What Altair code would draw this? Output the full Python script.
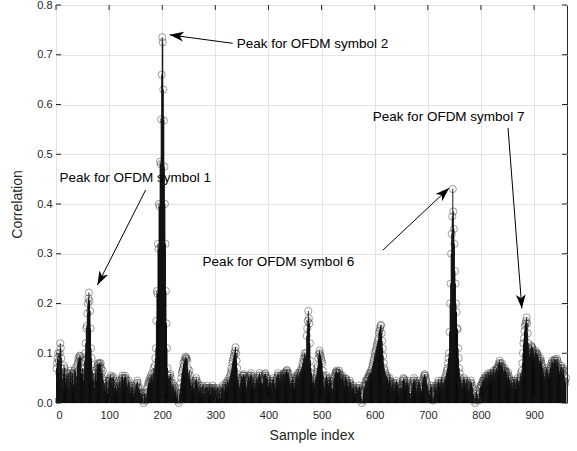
import math
import altair as alt
import pandas as pd

# Correlation value for samples 1..960
correlation = [
    0.07, 0.08, 0.09, 0.10, 0.085, 0.06, 0.10, 0.12, 0.11, 0.09,
    0.07, 0.05, 0.03, 0.06, 0.075, 0.07, 0.05, 0.04, 0.06, 0.05,
    0.035, 0.055, 0.06, 0.045, 0.03, 0.05, 0.065, 0.06, 0.04, 0.055,
    0.06, 0.05, 0.035, 0.045, 0.065, 0.07, 0.06, 0.04, 0.055, 0.075,
    0.08, 0.09, 0.085, 0.095, 0.09, 0.094, 0.08, 0.06, 0.05, 0.07,
    0.06, 0.045, 0.07, 0.085, 0.10, 0.12, 0.15, 0.155, 0.18, 0.20,
    0.21, 0.222, 0.205, 0.185, 0.15, 0.11, 0.09, 0.065, 0.05, 0.06,
    0.045, 0.03, 0.05, 0.065, 0.06, 0.045, 0.07, 0.075, 0.08, 0.078,
    0.07, 0.08, 0.075, 0.08, 0.07, 0.06, 0.05, 0.065, 0.045, 0.03,
    0.04, 0.035, 0.025, 0.045, 0.04, 0.03, 0.02, 0.035, 0.03, 0.045,
    0.05, 0.045, 0.055, 0.05, 0.04, 0.035, 0.05, 0.053, 0.045, 0.03,
    0.02, 0.035, 0.03, 0.025, 0.04, 0.035, 0.02, 0.03, 0.045, 0.04,
    0.035, 0.03, 0.045, 0.05, 0.055, 0.05, 0.045, 0.035, 0.05, 0.055,
    0.05, 0.04, 0.045, 0.035, 0.03, 0.04, 0.045, 0.035, 0.025, 0.02,
    0.03, 0.025, 0.035, 0.03, 0.02, 0.015, 0.025, 0.02, 0.03, 0.025,
    0.035, 0.04, 0.045, 0.04, 0.03, 0.02, 0.025, 0.03, 0.02, 0.01,
    0.015, 0.02, 0.01, 0.005, 0.0, 0.01, 0.02, 0.015, 0.005, 0.01,
    0.02, 0.03, 0.035, 0.04, 0.045, 0.04, 0.05, 0.045, 0.055, 0.05,
    0.06, 0.045, 0.05, 0.07, 0.06, 0.075, 0.09, 0.11, 0.165, 0.225,
    0.22, 0.32, 0.31, 0.40, 0.395, 0.485, 0.48, 0.57, 0.66, 0.735,
    0.725, 0.63, 0.568, 0.475, 0.40, 0.32, 0.225, 0.16, 0.11, 0.07,
    0.055, 0.05, 0.045, 0.055, 0.058, 0.05, 0.04, 0.035, 0.03, 0.04,
    0.035, 0.025, 0.02, 0.03, 0.025, 0.015, 0.01, 0.02, 0.015, 0.005,
    0.0, 0.01, 0.02, 0.03, 0.04, 0.05, 0.06, 0.065, 0.07, 0.08,
    0.075, 0.085, 0.09, 0.093, 0.088, 0.09, 0.085, 0.07, 0.06, 0.05,
    0.065, 0.055, 0.04, 0.045, 0.035, 0.025, 0.04, 0.035, 0.03, 0.02,
    0.03, 0.04, 0.045, 0.05, 0.045, 0.035, 0.04, 0.03, 0.02, 0.025,
    0.035, 0.03, 0.025, 0.02, 0.03, 0.035, 0.025, 0.02, 0.015, 0.02,
    0.03, 0.025, 0.03, 0.035, 0.03, 0.02, 0.025, 0.03, 0.025, 0.015,
    0.02, 0.03, 0.025, 0.03, 0.035, 0.03, 0.025, 0.02, 0.03, 0.025,
    0.02, 0.015, 0.025, 0.03, 0.02, 0.01, 0.02, 0.025, 0.015, 0.01,
    0.02, 0.03, 0.025, 0.035, 0.03, 0.02, 0.025, 0.03, 0.04, 0.035,
    0.03, 0.04, 0.045, 0.035, 0.04, 0.05, 0.045, 0.055, 0.06, 0.07,
    0.065, 0.08, 0.085, 0.09, 0.095, 0.10, 0.105, 0.112, 0.10, 0.085,
    0.07, 0.05, 0.04, 0.045, 0.035, 0.03, 0.04, 0.045, 0.05, 0.055,
    0.05, 0.055, 0.058, 0.055, 0.05, 0.04, 0.045, 0.035, 0.03, 0.04,
    0.045, 0.05, 0.055, 0.05, 0.045, 0.055, 0.06, 0.055, 0.05, 0.04,
    0.035, 0.045, 0.04, 0.03, 0.035, 0.04, 0.045, 0.05, 0.045, 0.04,
    0.05, 0.055, 0.06, 0.055, 0.05, 0.045, 0.04, 0.035, 0.04, 0.045,
    0.05, 0.055, 0.058, 0.06, 0.055, 0.05, 0.045, 0.05, 0.04, 0.035,
    0.03, 0.04, 0.045, 0.04, 0.035, 0.03, 0.04, 0.045, 0.05, 0.045,
    0.04, 0.035, 0.03, 0.04, 0.045, 0.05, 0.055, 0.06, 0.055, 0.05,
    0.045, 0.05, 0.055, 0.05, 0.045, 0.05, 0.055, 0.06, 0.058, 0.05,
    0.055, 0.06, 0.062, 0.065, 0.066, 0.06, 0.055, 0.06, 0.05, 0.045,
    0.04, 0.035, 0.04, 0.045, 0.05, 0.045, 0.04, 0.035, 0.03, 0.04,
    0.045, 0.05, 0.055, 0.05, 0.06, 0.055, 0.05, 0.06, 0.055, 0.065,
    0.06, 0.07, 0.065, 0.08, 0.075, 0.09, 0.085, 0.10, 0.095, 0.09,
    0.10, 0.135, 0.15, 0.165, 0.185, 0.17, 0.16, 0.12, 0.085, 0.07,
    0.06, 0.045, 0.04, 0.05, 0.045, 0.04, 0.035, 0.045, 0.05, 0.055,
    0.06, 0.07, 0.075, 0.09, 0.098, 0.105, 0.10, 0.095, 0.09, 0.085,
    0.08, 0.065, 0.055, 0.04, 0.03, 0.035, 0.045, 0.05, 0.055, 0.05,
    0.045, 0.04, 0.035, 0.04, 0.045, 0.05, 0.045, 0.04, 0.03, 0.025,
    0.03, 0.035, 0.045, 0.05, 0.055, 0.06, 0.062, 0.065, 0.062, 0.06,
    0.055, 0.06, 0.065, 0.06, 0.055, 0.05, 0.045, 0.05, 0.055, 0.05,
    0.045, 0.04, 0.035, 0.045, 0.05, 0.048, 0.045, 0.04, 0.035, 0.03,
    0.035, 0.04, 0.045, 0.04, 0.035, 0.03, 0.025, 0.03, 0.035, 0.03,
    0.025, 0.02, 0.015, 0.02, 0.025, 0.03, 0.025, 0.02, 0.025, 0.03,
    0.035, 0.03, 0.025, 0.02, 0.01, 0.0, 0.005, 0.015, 0.025, 0.035,
    0.03, 0.035, 0.045, 0.04, 0.045, 0.05, 0.045, 0.05, 0.055, 0.06,
    0.055, 0.06, 0.065, 0.06, 0.07, 0.075, 0.08, 0.085, 0.09, 0.10,
    0.095, 0.105, 0.11, 0.115, 0.12, 0.125, 0.13, 0.14, 0.145, 0.15,
    0.155, 0.157, 0.14, 0.125, 0.11, 0.095, 0.08, 0.07, 0.065, 0.06,
    0.055, 0.05, 0.055, 0.05, 0.045, 0.04, 0.045, 0.05, 0.045, 0.04,
    0.035, 0.03, 0.035, 0.04, 0.035, 0.03, 0.025, 0.03, 0.035, 0.04,
    0.045, 0.04, 0.035, 0.03, 0.025, 0.02, 0.03, 0.035, 0.03, 0.025,
    0.03, 0.035, 0.045, 0.05, 0.048, 0.045, 0.04, 0.035, 0.03, 0.04,
    0.045, 0.04, 0.035, 0.03, 0.025, 0.02, 0.01, 0.02, 0.025, 0.03,
    0.035, 0.04, 0.045, 0.05, 0.045, 0.04, 0.035, 0.03, 0.025, 0.03,
    0.035, 0.04, 0.045, 0.04, 0.035, 0.03, 0.02, 0.025, 0.03, 0.04,
    0.045, 0.05, 0.055, 0.058, 0.055, 0.05, 0.045, 0.04, 0.035, 0.03,
    0.025, 0.02, 0.015, 0.025, 0.03, 0.035, 0.03, 0.02, 0.01, 0.005,
    0.015, 0.025, 0.03, 0.035, 0.03, 0.025, 0.03, 0.035, 0.04, 0.045,
    0.04, 0.035, 0.03, 0.035, 0.04, 0.045, 0.04, 0.035, 0.03, 0.04,
    0.045, 0.05, 0.045, 0.055, 0.06, 0.065, 0.07, 0.08, 0.09, 0.10,
    0.143, 0.20, 0.24, 0.30, 0.34, 0.375, 0.43, 0.385, 0.35, 0.32,
    0.265, 0.24, 0.20, 0.183, 0.15, 0.148, 0.11, 0.09, 0.07, 0.06,
    0.05, 0.045, 0.04, 0.035, 0.03, 0.04, 0.045, 0.05, 0.045, 0.04,
    0.035, 0.04, 0.045, 0.04, 0.035, 0.03, 0.025, 0.03, 0.035, 0.04,
    0.045, 0.04, 0.035, 0.03, 0.02, 0.015, 0.01, 0.005, 0.0, 0.01,
    0.02, 0.025, 0.015, 0.01, 0.005, 0.01, 0.02, 0.03, 0.035, 0.03,
    0.035, 0.04, 0.045, 0.04, 0.045, 0.05, 0.045, 0.05, 0.055, 0.05,
    0.045, 0.05, 0.055, 0.06, 0.055, 0.05, 0.055, 0.06, 0.058, 0.055,
    0.05, 0.055, 0.06, 0.065, 0.06, 0.055, 0.06, 0.065, 0.07, 0.068,
    0.065, 0.07, 0.075, 0.08, 0.085, 0.08, 0.075, 0.072, 0.08, 0.075,
    0.07, 0.065, 0.06, 0.065, 0.07, 0.065, 0.062, 0.06, 0.055, 0.05,
    0.062, 0.055, 0.05, 0.045, 0.04, 0.035, 0.045, 0.04, 0.035, 0.03,
    0.04, 0.045, 0.04, 0.035, 0.03, 0.035, 0.04, 0.045, 0.05, 0.045,
    0.04, 0.035, 0.045, 0.05, 0.06, 0.055, 0.065, 0.08, 0.10, 0.12,
    0.13, 0.145, 0.155, 0.16, 0.165, 0.172, 0.16, 0.14, 0.12, 0.11,
    0.10, 0.095, 0.105, 0.11, 0.115, 0.113, 0.11, 0.105, 0.10, 0.095,
    0.09, 0.10, 0.105, 0.10, 0.095, 0.10, 0.097, 0.09, 0.085, 0.08,
    0.085, 0.09, 0.085, 0.08, 0.075, 0.07, 0.065, 0.06, 0.055, 0.05,
    0.055, 0.06, 0.065, 0.07, 0.065, 0.06, 0.055, 0.05, 0.06, 0.065,
    0.07, 0.075, 0.08, 0.085, 0.08, 0.075, 0.08, 0.085, 0.088, 0.085,
    0.08, 0.075, 0.089, 0.085, 0.08, 0.07, 0.065, 0.06, 0.065, 0.07,
    0.075, 0.07, 0.065, 0.06, 0.07, 0.065, 0.055, 0.045, 0.04, 0.05,
]
sample_index = list(range(1, len(correlation) + 1))

x_ticks = [0, 100, 200, 300, 400, 500, 600, 700, 800, 900]
y_ticks = [0, 0.1, 0.2, 0.3, 0.4, 0.5, 0.6, 0.7, 0.8]
X_MAX = 962
Y_MAX = 0.8

# Annotations: label text, label anchor, arrow tail and arrow tip (data units)
labels = ["Peak for OFDM symbol 1", "Peak for OFDM symbol 2",
          "Peak for OFDM symbol 6", "Peak for OFDM symbol 7"]
label_x = [6.6, 340.4, 276.0, 596.5]
label_y = [0.452, 0.722, 0.283, 0.575]
tail_x = [168.7, 332.6, 615.0, 851.0]
tail_y = [0.428, 0.723, 0.307, 0.553]
tip_x = [78.0, 214.0, 740.0, 877.0]
tip_y = [0.237, 0.740, 0.432, 0.190]

W, H = 511, 398
FONT = "Liberation Sans"
INK = "#262626"

xs = alt.Scale(domain=[0, X_MAX], nice=False, zero=False)
ys = alt.Scale(domain=[0, Y_MAX], nice=False)

sig = pd.DataFrame({"n": sample_index, "c": correlation})

# rotation of each arrowhead so that it points from tail to tip (screen space)
angles = []
for tx, ty, hx, hy in zip(tail_x, tail_y, tip_x, tip_y):
    dx = (hx - tx) * W / X_MAX
    dy = -(hy - ty) * H / Y_MAX
    angles.append(math.degrees(math.atan2(dx, -dy)) % 360)

ann = pd.DataFrame({
    "label": labels, "lx": label_x, "ly": label_y,
    "tx": tail_x, "ty": tail_y, "hx": tip_x, "hy": tip_y, "ang": angles,
})

x_axis = alt.Axis(values=x_ticks, grid=True, gridColor="#e3e3e3", gridWidth=1,
                  domain=False, ticks=False, labelFont=FONT, labelFontSize=11,
                  labelColor=INK, labelPadding=6, title="Sample index",
                  titleFont=FONT, titleFontSize=14, titleFontWeight="normal",
                  titleColor=INK, titlePadding=8)
y_axis = alt.Axis(values=y_ticks, grid=True, gridColor="#e3e3e3", gridWidth=1,
                  domain=False, ticks=False, labelFont=FONT, labelFontSize=11,
                  labelColor=INK, labelPadding=4, title="Correlation",
                  titleFont=FONT, titleFontSize=14, titleFontWeight="normal",
                  titleColor=INK, titlePadding=12)

stems = alt.Chart(sig).mark_rule(color="#000", strokeWidth=0.9).encode(
    x=alt.X("n:Q", scale=xs, axis=x_axis),
    y=alt.Y("c:Q", scale=ys, axis=y_axis),
    y2=alt.datum(0),
)

heads = alt.Chart(sig).mark_point(shape="circle", filled=False, size=52,
                                  color="#1a1a1a", strokeWidth=0.6).encode(
    x=alt.X("n:Q", scale=xs), y=alt.Y("c:Q", scale=ys)
)

# inward tick marks on all four sides
xt = pd.DataFrame({"v": x_ticks})
yt = pd.DataFrame({"v": y_ticks})
ticks_bottom = alt.Chart(xt).mark_rule(color=INK, strokeWidth=1).encode(
    x=alt.X("v:Q", scale=xs), y=alt.value(H), y2=alt.value(H - 5))
ticks_top = alt.Chart(xt).mark_rule(color=INK, strokeWidth=1).encode(
    x=alt.X("v:Q", scale=xs), y=alt.value(0), y2=alt.value(5))
ticks_left = alt.Chart(yt).mark_rule(color=INK, strokeWidth=1).encode(
    y=alt.Y("v:Q", scale=ys), x=alt.value(0), x2=alt.value(5))
ticks_right = alt.Chart(yt).mark_rule(color=INK, strokeWidth=1).encode(
    y=alt.Y("v:Q", scale=ys), x=alt.value(W), x2=alt.value(W - 5))

arrow_lines = alt.Chart(ann).mark_rule(color="#000", strokeWidth=1).encode(
    x=alt.X("tx:Q", scale=xs), y=alt.Y("ty:Q", scale=ys),
    x2="hx:Q", y2="hy:Q",
)
arrow_heads = alt.Chart(ann).mark_point(
    shape="M0,0L0.7,2L0,1.45L-0.7,2Z", filled=True, size=196,
    color="#000", strokeWidth=0, opacity=1,
).encode(
    x=alt.X("hx:Q", scale=xs), y=alt.Y("hy:Q", scale=ys),
    angle=alt.Angle("ang:Q", scale=None),
)
texts = alt.Chart(ann).mark_text(align="left", baseline="middle", font=FONT,
                                 fontSize=13.5, color="#000").encode(
    x=alt.X("lx:Q", scale=xs), y=alt.Y("ly:Q", scale=ys), text="label:N")

chart = alt.layer(
    stems, heads, ticks_bottom, ticks_top, ticks_left, ticks_right,
    arrow_lines, arrow_heads, texts,
).properties(
    width=W, height=H,
    autosize=alt.AutoSizeParams(type="none"),
    padding={"left": 56, "top": 5, "right": 10, "bottom": 48},
    background="white",
).configure_view(stroke=INK, strokeWidth=1)

chart.save("out.html", embed_options={"renderer": "svg", "actions": False})
